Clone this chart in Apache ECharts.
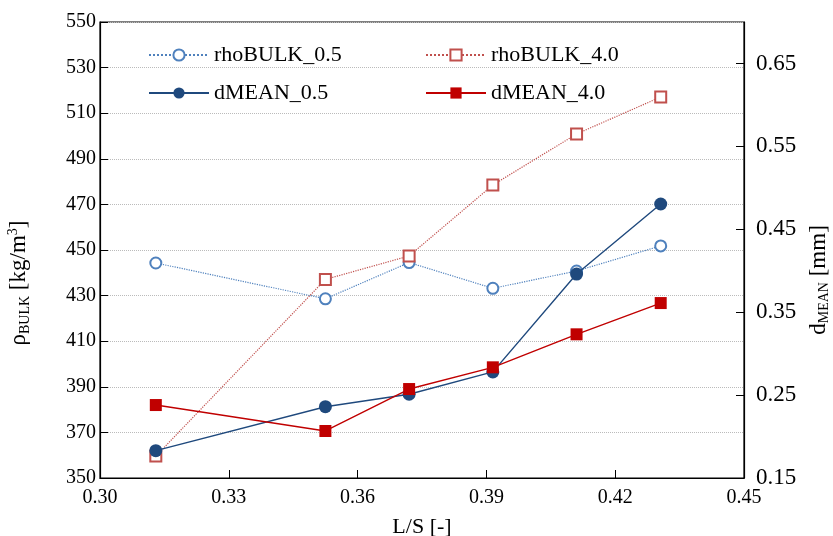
<!DOCTYPE html>
<html>
<head>
<meta charset="utf-8">
<script src="https://cdn.jsdelivr.net/npm/echarts@6/dist/echarts.min.js"></script>
<style>
  html, body { margin: 0; padding: 0; background: #fff; }
  #chart { width: 833px; height: 536px; }
</style>
</head>
<body>
<div id="chart"></div>
<script>
  // L/S values shared by all series
  var ls = [0.313, 0.3525, 0.372, 0.3915, 0.411, 0.4306];
  // bulk density [kg/m3], left axis
  var rhoBulk05 = [444.3, 428.6, 444.5, 433.2, 440.8, 451.8];
  var rhoBulk40 = [359.6, 437.1, 447.4, 478.5, 500.9, 517.1];
  // mean diameter [mm], right axis
  var dMean05 = [0.183, 0.236, 0.251, 0.278, 0.396, 0.4805];
  var dMean40 = [0.238, 0.2067, 0.2573, 0.2835, 0.3233, 0.361];

  var font = 'Liberation Serif';

  function pairs(ys) {
    return ls.map(function (x, i) { return [x, ys[i]]; });
  }

  var chart = echarts.init(document.getElementById('chart'));

  var option = {
    backgroundColor: '#fff',
    animation: false,
    textStyle: { fontFamily: font, color: '#000' },
    grid: {
      left: 100, right: 89, top: 22, bottom: 58,
      outerBoundsMode: 'none',
      show: true, borderColor: '#000', borderWidth: 1.2
    },
    legend: [
      {
        orient: 'vertical', left: 143, top: 38,
        itemWidth: 60, itemHeight: 14, itemGap: 14,
        textStyle: { fontFamily: font, fontSize: 22, color: '#000', lineHeight: 24 },
        data: ['rhoBULK_0.5', 'dMEAN_0.5']
      },
      {
        orient: 'vertical', left: 420, top: 38,
        itemWidth: 60, itemHeight: 14, itemGap: 14,
        textStyle: { fontFamily: font, fontSize: 22, color: '#000', lineHeight: 24 },
        data: ['rhoBULK_4.0', 'dMEAN_4.0']
      }
    ],
    xAxis: {
      type: 'value', min: 0.30, max: 0.45, interval: 0.03,
      name: 'L/S [-]', nameLocation: 'middle', nameGap: 38,
      nameTextStyle: { fontFamily: font, fontSize: 22, color: '#000' },
      axisLine: { lineStyle: { color: '#000', width: 1.2 } },
      axisTick: { inside: true, length: 8, lineStyle: { color: '#000' } },
      axisLabel: {
        fontFamily: font, fontSize: 20, color: '#000', margin: 10,
        formatter: function (v) { return v.toFixed(2); }
      },
      splitLine: { show: false }
    },
    yAxis: [
      {
        type: 'value', min: 350, max: 550, interval: 20,
        name: '{a|ρ}{s|BULK}{a| [kg/m}{p|3}{a|]}',
        nameLocation: 'middle', nameGap: 68, nameRotate: 90,
        nameTextStyle: {
          padding: [0, 66, 0, 0],
          rich: {
            a: { fontFamily: font, fontSize: 23, color: '#000' },
            s: { fontFamily: font, fontSize: 14, color: '#000', padding: [12, 0, 0, 0] },
            p: { fontFamily: font, fontSize: 14, color: '#000', padding: [0, 0, 12, 0] }
          }
        },
        axisLine: { show: true, lineStyle: { color: '#000', width: 1.2 } },
        axisTick: { show: true, inside: true, length: 8, lineStyle: { color: '#000' } },
        axisLabel: { fontFamily: font, fontSize: 20, color: '#000', margin: 4 },
        splitLine: { show: true, lineStyle: { color: '#bbb', type: 'dotted', width: 1 } }
      },
      {
        type: 'value', min: 0.15, max: 0.70, interval: 0.1,
        position: 'right',
        name: '{a|d}{s|MEAN}{a| [mm]}',
        nameLocation: 'middle', nameGap: 58, nameRotate: 90,
        nameTextStyle: {
          padding: [0, 60, 0, 0],
          rich: {
            a: { fontFamily: font, fontSize: 23, color: '#000' },
            s: { fontFamily: font, fontSize: 14, color: '#000', padding: [12, 0, 0, 0] }
          }
        },
        axisLine: { show: true, lineStyle: { color: '#000', width: 1.2 } },
        axisTick: { show: true, inside: true, length: 8, lineStyle: { color: '#000' } },
        axisLabel: {
          fontFamily: font, fontSize: 23, color: '#000', margin: 12,
          showMaxLabel: false,
          formatter: function (v) { return v.toFixed(2); }
        },
        splitLine: { show: false }
      }
    ],
    series: [
      {
        name: 'rhoBULK_0.5', type: 'line', yAxisIndex: 0,
        data: pairs(rhoBulk05),
        symbol: 'emptyCircle', symbolSize: 11,
        itemStyle: { color: '#4f81bd', borderWidth: 1.8 },
        lineStyle: { color: '#4f81bd', type: 'dotted', width: 1.2 },
        z: 2
      },
      {
        name: 'rhoBULK_4.0', type: 'line', yAxisIndex: 0,
        data: pairs(rhoBulk40),
        symbol: 'emptyRect', symbolSize: 11,
        itemStyle: { color: '#c0504d', borderWidth: 1.8 },
        lineStyle: { color: '#c0504d', type: 'dotted', width: 1.2 },
        z: 2
      },
      {
        name: 'dMEAN_0.5', type: 'line', yAxisIndex: 1,
        data: pairs(dMean05),
        symbol: 'circle', symbolSize: 13,
        itemStyle: { color: '#1f497d' },
        lineStyle: { color: '#1f497d', width: 1.4 },
        z: 3
      },
      {
        name: 'dMEAN_4.0', type: 'line', yAxisIndex: 1,
        data: pairs(dMean40),
        symbol: 'rect', symbolSize: 12,
        itemStyle: { color: '#c00000' },
        lineStyle: { color: '#c00000', width: 1.4 },
        z: 3
      }
    ]
  };

  chart.setOption(option);
</script>
</body>
</html>
